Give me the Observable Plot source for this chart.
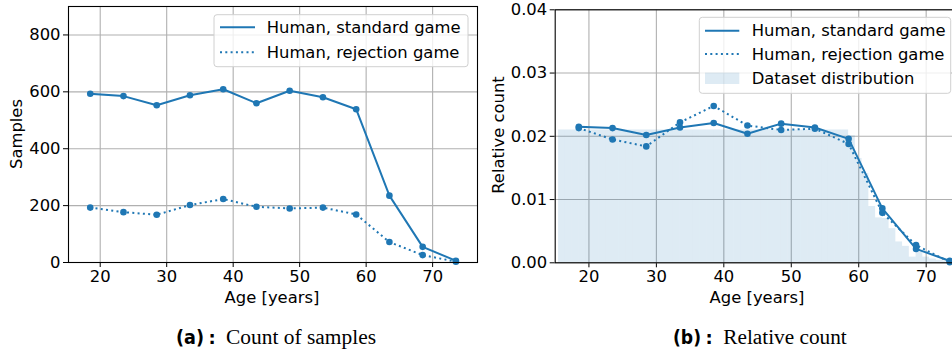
<!DOCTYPE html>
<html><head><meta charset="utf-8">
<script src="https://cdn.jsdelivr.net/npm/d3@7"></script>
<script src="https://cdn.jsdelivr.net/npm/@observablehq/plot@0.6"></script>
<style>
html,body{margin:0;padding:0;background:#fff;overflow:hidden}
#wrap{position:relative;width:952px;height:354px;overflow:hidden;background:#fff}
#wrap > svg{position:absolute;top:0}
</style></head><body><div id="wrap"></div>
<script>
// ---- data ----
const ages = [18.5, 23.5, 28.5, 33.5, 38.5, 43.5, 48.5, 53.5, 58.5, 63.5, 68.5, 73.5];
const standardCount = [593, 585, 553, 588, 609, 560, 604, 581, 539, 235, 55, 6];
const rejectionCount = [193, 177, 168, 202, 223, 196, 190, 193, 169, 72, 26, 3];
const standardRel = [0.0215, 0.0213, 0.0202, 0.0214, 0.0221, 0.0204, 0.0220, 0.0214, 0.0196, 0.0086, 0.0022, 0.0003];
const rejectionRel = [0.0213, 0.0195, 0.0184, 0.0222, 0.0248, 0.0217, 0.0210, 0.0212, 0.0188, 0.0079, 0.0028, 0.0001];
const binStart = [15.5, 16.5, 17.5, 18.5, 19.5, 20.5, 21.5, 22.5, 23.5, 24.5, 25.5, 26.5, 27.5, 28.5, 29.5,
  30.5, 31.5, 32.5, 33.5, 34.5, 35.5, 36.5, 37.5, 38.5, 39.5, 40.5, 41.5, 42.5, 43.5, 44.5,
  45.5, 46.5, 47.5, 48.5, 49.5, 50.5, 51.5, 52.5, 53.5, 54.5, 55.5, 56.5, 57.5, 58.5, 59.5,
  60.5, 61.5, 62.5, 63.5, 64.5, 65.5, 66.5, 67.5, 68.5, 69.5, 70.5, 71.5, 72.5, 73.5];
const binValue = [0.021, 0.021, 0.021, 0.021, 0.021, 0.021, 0.021, 0.021, 0.021, 0.021, 0.021, 0.021, 0.021, 0.021, 0.021,
  0.021, 0.021, 0.021, 0.021, 0.021, 0.021, 0.021, 0.021, 0.021, 0.021, 0.021, 0.021, 0.021, 0.021, 0.021,
  0.021, 0.021, 0.021, 0.021, 0.021, 0.021, 0.021, 0.021, 0.021, 0.021, 0.021, 0.021, 0.021, 0.0201, 0.0165,
  0.0141, 0.0089, 0.0071, 0.0070, 0.0054, 0.0033, 0.0026, 0.0009, 0.0017, 0.0009, 0.0006, 0.0004, 0.0003, 0.0002];
const binWidth = 1;
const xTicks = [20, 30, 40, 50, 60, 70];
const countTicks = [0, 200, 400, 600, 800];
const relTicks = [0, 0.01, 0.02, 0.03, 0.04];
const seriesNames = ["Human, standard game", "Human, rejection game", "Dataset distribution"];
const xLabel = "Age [years]";
const yLabels = ["Samples", "Relative count"];
const captions = [["(a)", "Count of samples"], ["(b)", "Relative count"]];

// ---- build ----
const C0 = "#1f77b4";
const GRID = "#b0b0b0";
const DOT = "2,3.3";
const mk = (vals) => ages.map((a, i) => ({age: a, v: vals[i]}));
const stdC = mk(standardCount), rejC = mk(rejectionCount), stdR = mk(standardRel), rejR = mk(rejectionRel);
const bins = binStart.map((s, i) => ({x1: s, x2: s + binWidth, v: binValue[i]}));
const style = {fontFamily: "'DejaVu Sans', sans-serif", fontSize: "16.4px", color: "#000", background: "transparent", overflow: "visible"};

function seriesMarks(std, rej) {
  return [
    Plot.line(std, {x: "age", y: "v", stroke: C0, strokeWidth: 2, strokeLinecap: "square"}),
    Plot.dot(std, {x: "age", y: "v", r: 3.3, fill: C0, stroke: "none"}),
    Plot.line(rej, {x: "age", y: "v", stroke: C0, strokeWidth: 2, strokeDasharray: DOT, strokeLinecap: "butt"}),
    Plot.dot(rej, {x: "age", y: "v", r: 3.3, fill: C0, stroke: "none"})
  ];
}

const left = Plot.plot({
  width: 480, height: 300,
  marginLeft: 68, marginRight: 3, marginTop: 6, marginBottom: 38,
  style,
  x: {domain: [15.23, 76.75], ticks: xTicks, tickSize: 5, tickPadding: 3, label: null, tickFormat: d3.format("d")},
  y: {domain: [0, 900], ticks: countTicks, tickSize: 5, tickPadding: 3, label: null, tickFormat: d3.format("d")},
  marks: [
    Plot.ruleX(xTicks, {x: d => d, stroke: GRID, strokeWidth: 1.1}),
    Plot.ruleY(countTicks, {y: d => d, stroke: GRID, strokeWidth: 1.1}),
    ...seriesMarks(stdC, rejC),
    Plot.frame({stroke: "#000", strokeWidth: 1.1})
  ]
});
left.style.left = "0px";

const right = Plot.plot({
  width: 480, height: 300,
  marginLeft: 74.7, marginRight: 0.6, marginTop: 9.3, marginBottom: 37.7,
  style,
  x: {domain: [15, 75], ticks: xTicks, tickSize: 5, tickPadding: 3, label: null, tickFormat: d3.format("d")},
  y: {domain: [0, 0.04], ticks: relTicks, tickSize: 5, tickPadding: 3, label: null, tickFormat: d3.format(".2f")},
  marks: [
    Plot.ruleX(xTicks, {x: d => d, stroke: GRID, strokeWidth: 1.1}),
    Plot.ruleY(relTicks, {y: d => d, stroke: GRID, strokeWidth: 1.1}),
    Plot.rectY(bins, {x1: "x1", x2: "x2", y: "v", fill: C0, fillOpacity: 0.15, inset: 0}),
    ...seriesMarks(stdR, rejR),
    Plot.frame({stroke: "#000", strokeWidth: 1.1})
  ]
});
right.style.left = "480px";

const wrap = document.getElementById("wrap");
wrap.appendChild(left);
wrap.appendChild(right);

// ---- overlay: axis labels, legends, captions ----
const ov = d3.select(wrap).append("svg").attr("width", 952).attr("height", 354).style("left", "0px")
  .attr("font-family", "'DejaVu Sans', sans-serif").attr("font-size", "16.4px");

[[272, 297], [757, 297]].forEach(([x, y]) =>
  ov.append("text").attr("x", x).attr("y", y).attr("text-anchor", "middle").attr("dominant-baseline", "central").text(xLabel));
[[16, 134], [498, 135]].forEach(([x, y], i) =>
  ov.append("text").attr("transform", `translate(${x},${y}) rotate(-90)`).attr("text-anchor", "middle")
    .attr("dominant-baseline", "central").text(yLabels[i]));

function legend(box, rows, sx, tx) {
  ov.append("rect").attr("x", box[0]).attr("y", box[1]).attr("width", box[2]).attr("height", box[3])
    .attr("rx", 3).attr("fill", "#fff").attr("fill-opacity", 0.8).attr("stroke", "#d0d0d0").attr("stroke-width", 1);
  rows.forEach((y, i) => {
    if (i === 2) {
      ov.append("rect").attr("x", sx[0]).attr("y", y - 5.7).attr("width", sx[1] - sx[0]).attr("height", 11.4)
        .attr("fill", C0).attr("fill-opacity", 0.15);
    } else {
      ov.append("line").attr("x1", sx[0]).attr("x2", sx[1]).attr("y1", y).attr("y2", y)
        .attr("stroke", C0).attr("stroke-width", 2).attr("stroke-dasharray", i === 1 ? DOT : null);
    }
    ov.append("text").attr("x", tx).attr("y", y).attr("dominant-baseline", "central").text(seriesNames[i]);
  });
}
legend([214, 14.7, 254, 52], [27.3, 52.3], [220, 255], 266.7);
legend([699.3, 17.3, 251.4, 76], [30.7, 54, 78.3], [705, 739.3], 751.7);

function caption(x, colonX, textX, textW, label, body) {
  ov.append("text").attr("x", x).attr("y", 344).attr("font-family", "'DejaVu Sans Condensed','DejaVu Sans',sans-serif")
    .attr("font-weight", "bold").attr("font-size", "20px").attr("textLength", 28).attr("lengthAdjust", "spacingAndGlyphs").text(label);
  ov.append("text").attr("x", colonX).attr("y", 344).attr("font-family", "'DejaVu Sans',sans-serif")
    .attr("font-weight", "bold").attr("font-size", "18px").text(":");
  ov.append("text").attr("x", textX).attr("y", 344).attr("font-family", "'Liberation Serif','DejaVu Serif',serif")
    .attr("font-size", "20px").attr("textLength", textW).attr("lengthAdjust", "spacingAndGlyphs").text(body);
}
caption(176, 208.5, 226, 150, captions[0][0], captions[0][1]);
caption(673, 705.5, 723.3, 123.4, captions[1][0], captions[1][1]);
</script></body></html>
